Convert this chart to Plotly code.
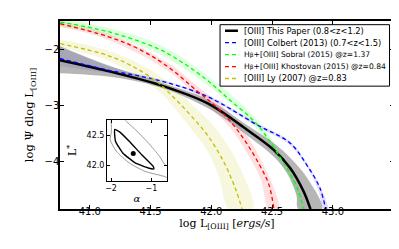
import plotly.graph_objects as go

# ---------------- data ----------------
# This paper ([OIII], 0.8<z<1.2)
paper_x = [40.755, 41.15, 41.558, 41.967, 42.293, 42.511, 42.647, 42.757, 42.816]
paper_y = [-2.198, -2.393, -2.628, -2.965, -3.437, -3.791, -4.115, -4.527, -4.853]
paper_up_x = [40.755, 41.15, 41.56, 41.97, 42.29, 42.51, 42.65, 42.79, 42.91]
paper_up_y = [-1.95, -2.29, -2.58, -2.90, -3.35, -3.67, -3.94, -4.30, -4.853]
paper_lo_x = [40.755, 41.15, 41.56, 41.97, 42.29, 42.51, 42.62, 42.70, 42.716]
paper_lo_y = [-2.43, -2.49, -2.67, -3.05, -3.53, -3.91, -4.20, -4.60, -4.853]

# Colbert (2013)
colb_x = [40.755, 41.15, 41.558, 41.967, 42.375, 42.647, 42.783, 42.892, 42.941]
colb_y = [-2.168, -2.375, -2.552, -2.846, -3.349, -3.673, -4.057, -4.469, -4.853]
colb_up_x = [40.755, 41.15, 41.558, 41.967, 42.375, 42.647, 42.783, 42.892, 42.96]
colb_up_y = [-1.96, -2.30, -2.53, -2.82, -3.32, -3.64, -4.02, -4.43, -4.853]
colb_lo_x = [40.755, 41.15, 41.558, 41.967, 42.375, 42.647, 42.783, 42.880, 42.925]
colb_lo_y = [-2.30, -2.43, -2.575, -2.87, -3.38, -3.71, -4.09, -4.51, -4.853]

# Sobral (2015)
sob_x = [40.757, 41.150, 41.558, 41.762, 41.967, 42.155, 42.351, 42.457, 42.563, 42.645, 42.711, 42.760]
sob_y = [-1.519, -1.690, -1.991, -2.239, -2.558, -2.912, -3.283, -3.566, -3.920, -4.204, -4.504, -4.853]
sob_up_x = [40.757, 41.150, 41.558, 41.967, 42.351, 42.563, 42.711, 42.784]
sob_up_y = [-1.442, -1.619, -1.903, -2.469, -3.195, -3.832, -4.434, -4.853]
sob_lo_x = [40.757, 41.150, 41.558, 41.967, 42.351, 42.563, 42.694, 42.735]
sob_lo_y = [-1.602, -1.761, -2.080, -2.646, -3.372, -4.009, -4.558, -4.853]

# Khostovan (2015)
kho_x = [40.757, 41.150, 41.395, 41.640, 41.885, 42.024, 42.155, 42.294, 42.400, 42.474, 42.515]
kho_y = [-1.549, -1.779, -1.991, -2.310, -2.752, -3.000, -3.283, -3.690, -4.080, -4.416, -4.853]
kho_up_x = [40.757, 41.150, 41.640, 41.885, 42.155, 42.400, 42.555]
kho_up_y = [-1.496, -1.726, -2.239, -2.664, -3.159, -3.938, -4.853]
kho_lo_x = [40.757, 41.150, 41.640, 41.885, 42.155, 42.294, 42.408, 42.474]
kho_lo_y = [-1.602, -1.832, -2.381, -2.841, -3.407, -3.850, -4.327, -4.853]

# Ly (2007)
ly_x = [40.757, 41.150, 41.354, 41.558, 41.697, 41.828, 41.967, 42.106, 42.204, 42.253]
ly_y = [-1.903, -2.115, -2.310, -2.593, -2.876, -3.177, -3.531, -4.027, -4.522, -4.853]
ly_up_x = [40.757, 41.150, 41.558, 41.828, 41.967, 42.106, 42.236, 42.342]
ly_up_y = [-1.832, -2.027, -2.451, -2.965, -3.248, -3.619, -4.115, -4.853]
ly_lo_x = [40.757, 41.150, 41.558, 41.697, 41.828, 41.967, 42.065, 42.147]
ly_lo_y = [-1.973, -2.204, -2.735, -3.053, -3.407, -3.814, -4.292, -4.853]

# inset: alpha - L* confidence contours
in_alpha = [-1.91, -1.89, -1.71, -1.40, -1.08, -0.94, -0.96, -1.24, -1.55, -1.79, -1.91]
in_lstar = [42.60, 42.405, 42.21, 42.045, 41.96, 41.945, 41.99, 42.18, 42.405, 42.56, 42.60]
out_alpha = [-1.98, -1.99, -2.02, -1.87, -1.55, -1.16, -0.68, -0.52, -0.52, -0.67, -0.80, -1.08, -1.40, -1.67, -1.79, -1.98]
out_lstar = [42.88, 42.57, 42.43, 42.24, 42.045, 41.905, 41.82, 41.78, 41.95, 42.02, 42.155, 42.38, 42.60, 42.77, 42.95, 42.88]
best_alpha = [-1.45]
best_lstar = [42.20]

x_ticks = [41.0, 41.5, 42.0, 42.5, 43.0]
x_ticktext = ["41.0", "41.5", "42.0", "42.5", "43.0"]
y_ticks = [-4, -3, -2]
y_ticktext = ["\u22124", "\u22123", "\u22122"]
in_x_ticks = [-2, -1]
in_x_ticktext = ["\u22122", "\u22121"]
in_y_ticks = [42.0, 42.5]
in_y_ticktext = ["42.0", "42.5"]

beta = "<span style='font-size:6px'>\u03b2</span>"
names = ["[OIII] This Paper (0.8<z<1.2)",
         "[OIII] Colbert (2013) (0.7<z<1.5)",
         "H" + beta + "+[OIII] Sobral (2015) @z=1.37",
         "H" + beta + "+[OIII] Khostovan (2015) @z=0.84",
         "[OIII] Ly (2007) @z=0.83"]
name_sizes = [8.3, 8.3, 7.6, 7.6, 8.3]
line_colors = ["black", "#0000ff", "#00ff00", "#ff0000", "#bfbf00"]

# ---------------- figure ----------------
W, H = 399, 249
ML, MR, MT, MB = 52, 11, 12, 48
PW, PH = W - ML - MR, H - MT - MB

fig = go.Figure()

def band(ux, uy, lx, ly, color):
    fig.add_trace(go.Scatter(x=ux + lx[::-1], y=uy + ly[::-1], mode="lines",
                             fill="toself", fillcolor=color, line=dict(width=0, shape="spline"),
                             showlegend=False, hoverinfo="skip"))

band(ly_up_x, ly_up_y, ly_lo_x, ly_lo_y, "rgba(191,191,0,0.13)")
band(kho_up_x, kho_up_y, kho_lo_x, kho_lo_y, "rgba(255,0,0,0.12)")
band(sob_up_x, sob_up_y, sob_lo_x, sob_lo_y, "rgba(0,255,0,0.12)")
band(colb_up_x, colb_up_y, colb_lo_x, colb_lo_y, "rgba(0,0,255,0.13)")
band(paper_up_x, paper_up_y, paper_lo_x, paper_lo_y, "rgba(110,110,110,0.5)")

dash = "4px,3px"
series = [(paper_x, paper_y), (colb_x, colb_y), (sob_x, sob_y), (kho_x, kho_y), (ly_x, ly_y)]
for i, (sx, sy) in enumerate(series):
    fig.add_trace(go.Scatter(x=sx, y=sy, mode="lines", name=names[i], showlegend=False,
                             line=dict(color=line_colors[i], width=2.5 if i == 0 else 1.3,
                                       dash="solid" if i == 0 else dash, shape="spline")))

# inset
fig.add_trace(go.Scatter(x=out_alpha, y=out_lstar, mode="lines", xaxis="x2", yaxis="y2",
                         line=dict(color="#909090", width=0.9, shape="spline", smoothing=0.6),
                         showlegend=False, hoverinfo="skip"))
fig.add_trace(go.Scatter(x=in_alpha, y=in_lstar, mode="lines", xaxis="x2", yaxis="y2",
                         line=dict(color="black", width=1.4, shape="spline", smoothing=0.4),
                         showlegend=False, hoverinfo="skip"))
fig.add_trace(go.Scatter(x=best_alpha, y=best_lstar, mode="markers", xaxis="x2", yaxis="y2",
                         marker=dict(color="black", size=5), showlegend=False, hoverinfo="skip"))

# manual legend (pixel layout converted to paper coordinates)
def px(xp):
    return (xp - ML) / PW

def py(yp):
    return (H - MB - yp) / PH

shapes = [dict(type="rect", xref="paper", yref="paper", layer="above",
               x0=px(213), x1=px(383.5), y0=py(77.5), y1=py(15.7),
               line=dict(color="black", width=1), fillcolor="white")]
annotations = []
for i in range(5):
    yy = py(21.8 + 12.0 * i)
    shapes.append(dict(type="line", xref="paper", yref="paper", layer="above",
                       x0=px(218), x1=px(231), y0=yy, y1=yy,
                       line=dict(color=line_colors[i], width=2.5 if i == 0 else 1.3,
                                 dash="solid" if i == 0 else dash)))
    annotations.append(dict(xref="paper", yref="paper", x=px(235.5), y=yy, text=names[i],
                            showarrow=False, xanchor="left", yanchor="middle",
                            font=dict(family="DejaVu Sans", size=name_sizes[i], color="black")))

tickfont = dict(family="DejaVu Sans", size=10, color="black")
serif = "DejaVu Serif"

fig.update_layout(
    width=W, height=H,
    margin=dict(l=ML, r=MR, t=MT, b=MB),
    paper_bgcolor="white", plot_bgcolor="white",
    showlegend=False,
    shapes=shapes, annotations=annotations,
    xaxis=dict(range=[40.755, 43.503], tickvals=x_ticks, ticktext=x_ticktext,
               showgrid=False, zeroline=False, showline=True, linecolor="black", linewidth=1.5,
               mirror="ticks", ticks="inside", ticklen=4, tickcolor="black", tickfont=tickfont,
               ticklabelstandoff=-8,
               title=dict(text="log L<sub>[OIII]</sub> [<i>ergs/s</i>]",
                          font=dict(family=serif, size=11, color="black"), standoff=2)),
    yaxis=dict(range=[-4.85, -1.5], tickvals=y_ticks, ticktext=y_ticktext,
               showgrid=False, zeroline=False, showline=True, linecolor="black", linewidth=1.5,
               mirror="ticks", ticks="inside", ticklen=4, tickcolor="black", tickfont=tickfont,
               ticklabelstandoff=-3,
               title=dict(text="log \u03a8 dlog L<sub>[OIII]</sub>",
                          font=dict(family=serif, size=11.5, color="black"), standoff=8)),
    xaxis2=dict(domain=[0.1407, 0.3197], anchor="y2", range=[-2.1, -0.62],
                tickvals=in_x_ticks, ticktext=in_x_ticktext,
                showgrid=False, zeroline=False, showline=True, linecolor="black", linewidth=1,
                mirror="ticks", ticks="inside", ticklen=3, tickcolor="black",
                tickfont=dict(family="DejaVu Sans", size=8, color="black"),
                title=dict(text="<i>\u03b1</i>", font=dict(family=serif, size=10, color="black"),
                           standoff=2)),
    yaxis2=dict(domain=[0.1508, 0.4725], anchor="x2", range=[41.75, 42.755],
                tickvals=in_y_ticks, ticktext=in_y_ticktext,
                showgrid=False, zeroline=False, showline=True, linecolor="black", linewidth=1,
                mirror="ticks", ticks="inside", ticklen=3, tickcolor="black",
                tickfont=dict(family="DejaVu Sans", size=8, color="black"),
                title=dict(text="L<sup>*</sup>", font=dict(family=serif, size=11, color="black"),
                           standoff=7)),
)

fig.write_html("out.html")
